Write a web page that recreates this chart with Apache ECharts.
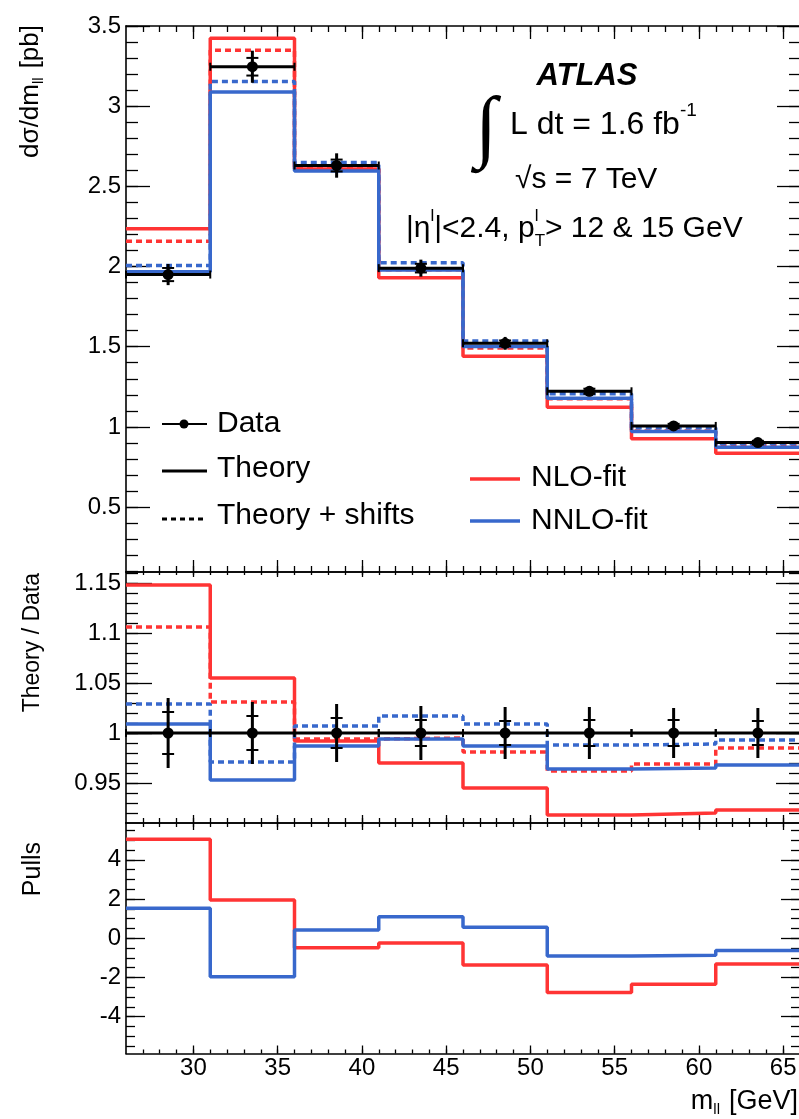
<!DOCTYPE html>
<html>
<head>
<meta charset="utf-8">
<script src="https://cdn.jsdelivr.net/npm/echarts@6/dist/echarts.min.js"></script>
<style>
  html, body { margin: 0; padding: 0; background: #fff; }
  #chart { width: 799px; height: 1119px; }
</style>
</head>
<body>
<div id="chart"></div>
<script>
// ---- binning (m_ll in GeV) ----
const binEdges   = [26, 31, 36, 41, 46, 51, 56, 61, 66];
const binCenters = [28.5, 33.5, 38.5, 43.5, 48.5, 53.5, 58.5, 63.5];

// ---- cross section dσ/dm_ll [pb] ----
const dataXsec      = [1.950, 3.246, 2.630, 1.990, 1.521, 1.222, 1.006, 0.902];
const dataStatErr   = [0.041, 0.055, 0.037, 0.027, 0.018, 0.016, 0.013, 0.011];
const dataTotErr    = [0.066, 0.100, 0.076, 0.053, 0.040, 0.031, 0.025, 0.022];
const nloXsec       = [2.236, 3.423, 2.608, 1.930, 1.440, 1.122, 0.926, 0.836];
const nloShiftXsec  = [2.157, 3.348, 2.612, 1.980, 1.492, 1.176, 0.975, 0.888];
const nnloXsec      = [1.968, 3.088, 2.596, 1.978, 1.501, 1.178, 0.971, 0.873];
const nnloShiftXsec = [2.006, 3.154, 2.648, 2.024, 1.535, 1.207, 0.995, 0.896];

// ---- Theory / Data ----
const ratioData      = [1, 1, 1, 1, 1, 1, 1, 1];
const ratioStatErr   = [0.021, 0.017, 0.015, 0.013, 0.012, 0.013, 0.013, 0.012];
const ratioTotErr    = [0.035, 0.031, 0.029, 0.027, 0.026, 0.026, 0.025, 0.025];
const nloRatio       = [1.148, 1.055, 0.992, 0.970, 0.945, 0.918, 0.920, 0.923];
const nloShiftRatio  = [1.106, 1.031, 0.994, 0.995, 0.981, 0.962, 0.969, 0.985];
const nnloRatio      = [1.009, 0.953, 0.987, 0.994, 0.987, 0.964, 0.965, 0.968];
const nnloShiftRatio = [1.029, 0.971, 1.007, 1.017, 1.009, 0.988, 0.989, 0.993];

// ---- pulls ----
const nloPull  = [5.05, 1.95, -0.48, -0.24, -1.36, -2.77, -2.35, -1.31];
const nnloPull = [1.53, -1.96, 0.42, 1.10, 0.56, -0.90, -0.87, -0.63];

// ---- tick labels ----
const xMajorTicks    = [30, 35, 40, 45, 50, 55, 60, 65];
const xsecMajorTicks = [0.5, 1, 1.5, 2, 2.5, 3, 3.5];
const ratioMajorTicks = [0.95, 1, 1.05, 1.1, 1.15];
const pullMajorTicks = [-4, -2, 0, 2, 4];

const RED = '#ff3434';
const BLUE = '#3868cc';
const FONT = '"Liberation Sans", Arial, Helvetica, sans-serif';

function steps(from, to, step) {
  const out = [];
  for (let v = from; v <= to + 1e-9; v += step) out.push(Math.round(v * 1000) / 1000);
  return out;
}
const xMinorTicks = steps(27, 65, 1);
const xsecMinorTicks = steps(0.1, 3.5, 0.1);
const ratioMinorTicks = steps(0.92, 1.16, 0.01);
const pullMinorTicks = steps(-5.5, 5.5, 0.5);

// ---- panel frames ----
const grids = [
  { left: 126, width: 674, top: 26,  height: 546,   outerBoundsMode: 'none' },
  { left: 126, width: 674, top: 572, height: 251,   outerBoundsMode: 'none' },
  { left: 126, width: 674, top: 823, height: 230.5, outerBoundsMode: 'none' }
];
const yRanges = [[0.095, 3.5], [0.91, 1.161], [-5.88, 5.88]];

const tickStyle = { color: '#000', width: 1.3 };
const fmtNum = v => String(+Number(v).toFixed(2));

function xAxesFor(g, t) {
  const base = { gridIndex: g, type: 'value', min: 26, max: 66, splitLine: { show: false } };
  const line = { show: true, onZero: false, lineStyle: { color: '#000', width: 1.6 } };
  return [
    Object.assign({}, base, {
      position: 'bottom', axisLine: line,
      axisTick: { inside: true, length: t.bMaj, customValues: xMajorTicks, lineStyle: tickStyle },
      axisLabel: { show: t.labels, customValues: xMajorTicks, color: '#000', fontFamily: FONT, fontSize: 24, margin: 3 }
    }),
    Object.assign({}, base, {
      position: 'bottom', axisLine: { show: false, onZero: false },
      axisTick: { inside: true, length: t.bMin, customValues: xMinorTicks, lineStyle: tickStyle },
      axisLabel: { show: false }
    }),
    Object.assign({}, base, {
      position: 'top', axisLine: line,
      axisTick: { inside: true, length: t.tMaj, customValues: xMajorTicks, lineStyle: tickStyle },
      axisLabel: { show: false }
    }),
    Object.assign({}, base, {
      position: 'top', axisLine: { show: false, onZero: false },
      axisTick: { inside: true, length: t.tMin, customValues: xMinorTicks, lineStyle: tickStyle },
      axisLabel: { show: false }
    })
  ];
}

function yAxesFor(g, major, minor, t) {
  const base = { gridIndex: g, type: 'value', min: yRanges[g][0], max: yRanges[g][1], splitLine: { show: false } };
  const line = { show: true, onZero: false, lineStyle: { color: '#000', width: 1.6 } };
  return [
    Object.assign({}, base, {
      position: 'left', axisLine: line,
      axisTick: { inside: true, length: t.maj, customValues: major, lineStyle: tickStyle },
      axisLabel: { show: true, customValues: major, formatter: fmtNum, color: '#000', fontFamily: FONT, fontSize: 24, margin: 5 }
    }),
    Object.assign({}, base, {
      position: 'left', axisLine: { show: false, onZero: false },
      axisTick: { inside: true, length: t.min, customValues: minor, lineStyle: tickStyle },
      axisLabel: { show: false }
    }),
    Object.assign({}, base, {
      position: 'right', axisLine: line,
      axisTick: { inside: true, length: t.rMaj, customValues: major, lineStyle: tickStyle },
      axisLabel: { show: false }
    }),
    Object.assign({}, base, {
      position: 'right', axisLine: { show: false, onZero: false },
      axisTick: { inside: true, length: t.rMin, customValues: minor, lineStyle: tickStyle },
      axisLabel: { show: false }
    })
  ];
}

const xAxis = [].concat(
  xAxesFor(0, { bMaj: 12, bMin: 6, tMaj: 13, tMin: 6, labels: false }),
  xAxesFor(1, { bMaj: 8,  bMin: 5, tMaj: 5,  tMin: 3, labels: false }),
  xAxesFor(2, { bMaj: 8,  bMin: 4, tMaj: 7,  tMin: 4, labels: true })
);
const yAxis = [].concat(
  yAxesFor(0, xsecMajorTicks, xsecMinorTicks, { maj: 24, min: 12, rMaj: 23, rMin: 11 }),
  yAxesFor(1, ratioMajorTicks, ratioMinorTicks, { maj: 26, min: 12, rMaj: 24, rMin: 11 }),
  yAxesFor(2, pullMajorTicks, pullMinorTicks, { maj: 19, min: 9, rMaj: 19, rMin: 9 })
);

// histogram outline points: one point per lower edge plus the last upper edge
function histPoints(values) {
  return binEdges.map((e, i) => [e, values[Math.min(i, values.length - 1)]]);
}
function histSeries(g, values, color, dotted, z) {
  return {
    type: 'line', xAxisIndex: 4 * g, yAxisIndex: 4 * g,
    data: histPoints(values), step: 'end', showSymbol: false, symbol: 'none',
    lineStyle: { color: color, width: 3.5, type: dotted ? [6, 4] : 'solid', cap: 'butt' },
    z: z, silent: true, animation: false
  };
}

// data points with x-bin bars, total error bars and stat-error ticks
function dataRender(params, api) {
  const x = api.value(0), y = api.value(1), st = api.value(2), tot = api.value(3);
  const lo = api.value(4), hi = api.value(5);
  const c = api.coord([x, y]), l = api.coord([lo, y]), h = api.coord([hi, y]);
  const up = api.coord([x, y + tot]), dn = api.coord([x, y - tot]);
  const su = api.coord([x, y + st]), sd = api.coord([x, y - st]);
  const thick = { stroke: '#000', lineWidth: 3 };
  const thin = { stroke: '#000', lineWidth: 2 };
  const cap = 4, tk = 6;
  return {
    type: 'group',
    children: [
      { type: 'line', shape: { x1: l[0], y1: l[1], x2: h[0], y2: h[1] }, style: thick },
      { type: 'line', shape: { x1: l[0], y1: l[1] - cap, x2: l[0], y2: l[1] + cap }, style: thin },
      { type: 'line', shape: { x1: h[0], y1: h[1] - cap, x2: h[0], y2: h[1] + cap }, style: thin },
      { type: 'line', shape: { x1: up[0], y1: up[1], x2: dn[0], y2: dn[1] }, style: thick },
      { type: 'line', shape: { x1: su[0] - tk, y1: su[1], x2: su[0] + tk, y2: su[1] }, style: thin },
      { type: 'line', shape: { x1: sd[0] - tk, y1: sd[1], x2: sd[0] + tk, y2: sd[1] }, style: thin },
      { type: 'circle', shape: { cx: c[0], cy: c[1], r: 5.5 }, style: { fill: '#000' } }
    ]
  };
}
function dataSeries(g, values, stat, tot) {
  return {
    type: 'custom', xAxisIndex: 4 * g, yAxisIndex: 4 * g,
    data: binCenters.map((x, i) => [x, values[i], stat[i], tot[i], binEdges[i], binEdges[i + 1]]),
    encode: { x: 0, y: 1 }, renderItem: dataRender, z: 10, silent: true, animation: false
  };
}

const series = [
  histSeries(0, nloXsec, RED, false, 2),
  histSeries(0, nloShiftXsec, RED, true, 3),
  histSeries(0, nnloXsec, BLUE, false, 4),
  histSeries(0, nnloShiftXsec, BLUE, true, 5),
  dataSeries(0, dataXsec, dataStatErr, dataTotErr),
  histSeries(1, nloRatio, RED, false, 2),
  histSeries(1, nloShiftRatio, RED, true, 3),
  histSeries(1, nnloRatio, BLUE, false, 4),
  histSeries(1, nnloShiftRatio, BLUE, true, 5),
  dataSeries(1, ratioData, ratioStatErr, ratioTotErr),
  histSeries(2, nloPull, RED, false, 2),
  histSeries(2, nnloPull, BLUE, false, 4)
];

// ---- text layout helpers (sub/superscripts laid out by measured widths) ----
const measureCtx = document.createElement('canvas').getContext('2d');
function textWidth(s) {
  measureCtx.font = (s.italic ? 'italic ' : '') + (s.bold ? 'bold ' : '') + s.size + 'px ' + (s.family || FONT);
  return measureCtx.measureText(s.t).width;
}
function textEl(s, x, y) {
  return {
    type: 'text', x: x, y: y + (s.dy || 0), silent: true,
    style: {
      text: s.t, fill: '#000', fontSize: s.size, fontFamily: s.family || FONT,
      fontWeight: s.bold ? 'bold' : 'normal', fontStyle: s.italic ? 'italic' : 'normal',
      align: 'left', verticalAlign: 'middle'
    }
  };
}
// lay segments left to right; segments flagged "stack" share x with the next one
function layout(segs, x, y) {
  const out = [];
  let cx = x;
  segs.forEach(s => {
    out.push(textEl(s, cx, y));
    if (!s.stack) cx += textWidth(s) + (s.gap || 0);
  });
  return { els: out, width: cx - x };
}
function layoutRight(segs, xRight, y) {
  const w = layout(segs, 0, 0).width;
  return layout(segs, xRight - w, y).els;
}
function rotatedTitle(segs, x, yTop) {
  const w = layout(segs, 0, 0).width;
  return { type: 'group', x: x, y: yTop, rotation: Math.PI / 2, children: layout(segs, -w, 0).els };
}

const graphics = [];
// axis titles
graphics.push(rotatedTitle([
  { t: 'dσ/dm', size: 26 }, { t: 'll', size: 15, dy: 8, gap: 9 }, { t: '[pb]', size: 26 }
], 31, 25));
graphics.push(rotatedTitle([{ t: 'Theory / Data', size: 23 }], 33, 573));
graphics.push(rotatedTitle([{ t: 'Pulls', size: 25 }], 33, 842));
layoutRight([
  { t: 'm', size: 27 }, { t: 'll', size: 15, dy: 8, gap: 9 }, { t: '[GeV]', size: 27 }
], 798, 1102).forEach(e => graphics.push(e));

// experiment label block
graphics.push({ type: 'text', x: 587, y: 76, silent: true, style: {
  text: 'ATLAS', fill: '#000', fontSize: 31, fontWeight: 'bold', fontStyle: 'italic',
  fontFamily: FONT, align: 'center', verticalAlign: 'middle' } });
graphics.push({ type: 'text', x: 486, y: 131, silent: true, style: {
  text: '∫', fill: '#000', fontSize: 80, fontFamily: '"Liberation Serif", "DejaVu Serif", serif',
  fontStyle: 'italic', align: 'center', verticalAlign: 'middle' } });
layout([
  { t: 'L dt = 1.6 fb', size: 32 }, { t: '-1', size: 19, dy: -14 }
], 510, 125).els.forEach(e => graphics.push(e));
layout([{ t: '√s = 7 TeV', size: 30 }], 515, 180).els.forEach(e => graphics.push(e));
layout([
  { t: '|η', size: 30 }, { t: 'l', size: 17, dy: -13 }, { t: '|<2.4, p', size: 30 },
  { t: 'l', size: 17, dy: -13, stack: true }, { t: 'T', size: 17, dy: 12 },
  { t: '> 12 & 15 GeV', size: 30 }
], 406, 229).els.forEach(e => graphics.push(e));

// legend: left block
function legLine(x1, x2, y, color, width, dash) {
  return { type: 'line', silent: true, shape: { x1: x1, y1: y, x2: x2, y2: y },
           style: { stroke: color, lineWidth: width, lineDash: dash || null } };
}
graphics.push(legLine(162, 207, 424, '#000', 2));
graphics.push({ type: 'circle', silent: true, shape: { cx: 184, cy: 424, r: 4.5 }, style: { fill: '#000' } });
graphics.push(textEl({ t: 'Data', size: 30 }, 217, 424));
graphics.push(legLine(162, 207, 471, '#000', 3));
graphics.push(textEl({ t: 'Theory', size: 30 }, 217, 469));
graphics.push(legLine(162, 207, 519, '#000', 3, [5, 4]));
graphics.push(textEl({ t: 'Theory + shifts', size: 30 }, 217, 516));
// legend: right block
graphics.push(legLine(470, 520, 479, RED, 3.5));
graphics.push(textEl({ t: 'NLO-fit', size: 30 }, 531, 478));
graphics.push(legLine(470, 520, 521, BLUE, 3.5));
graphics.push(textEl({ t: 'NNLO-fit', size: 30 }, 531, 521));

const chart = echarts.init(document.getElementById('chart'), null, { renderer: 'canvas' });
chart.setOption({
  backgroundColor: '#fff',
  animation: false,
  grid: grids,
  xAxis: xAxis,
  yAxis: yAxis,
  series: series,
  graphic: { elements: graphics }
});
</script>
</body>
</html>
